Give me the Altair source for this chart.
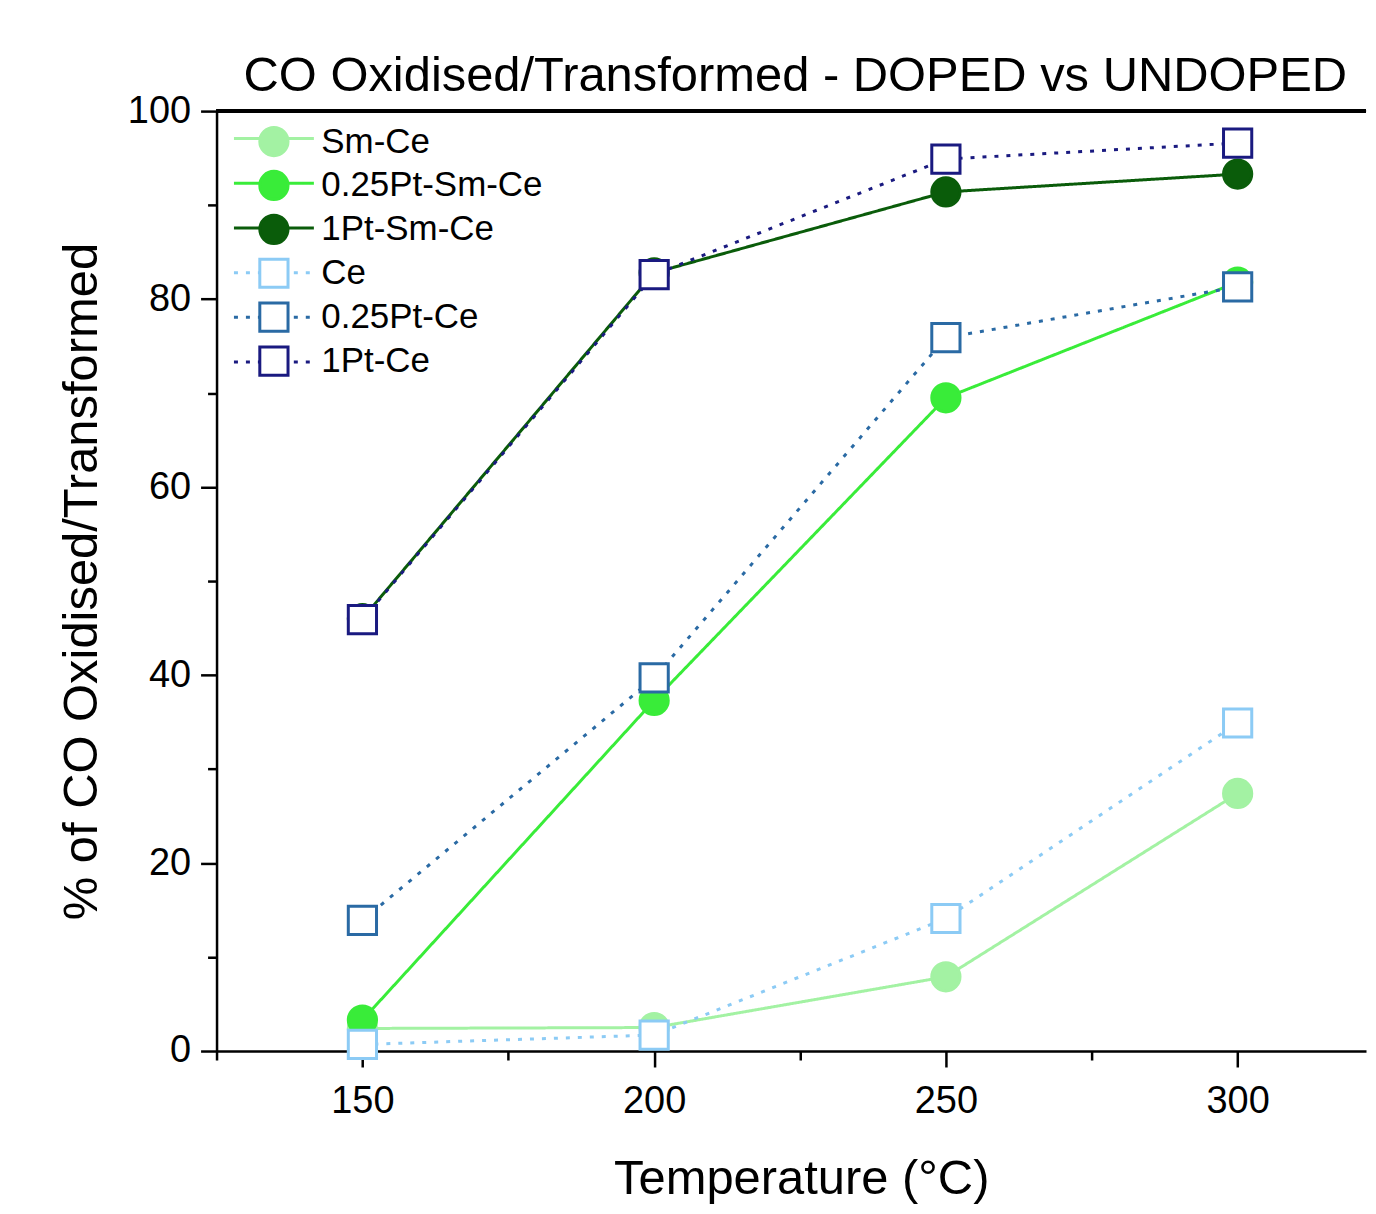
import altair as alt
import pandas as pd

# ---- data ----
temps = [150, 200, 250, 300]
series_names = ["Sm-Ce", "0.25Pt-Sm-Ce", "1Pt-Sm-Ce", "Ce", "0.25Pt-Ce", "1Pt-Ce"]
sm_ce = [2.4, 2.5, 7.9, 27.4]
pt025_sm_ce = [3.3, 37.3, 69.5, 81.8]
pt1_sm_ce = [46.0, 82.8, 91.4, 93.3]
ce = [0.7, 1.7, 14.1, 34.9]
pt025_ce = [13.9, 39.7, 75.9, 81.3]
pt1_ce = [45.9, 82.6, 94.9, 96.6]

# ---- styles ----
colors = ["#a3f2a3", "#39ec39", "#0a5c0a", "#8ccbf5", "#2a6aa4", "#1a1a80"]
fills = ["#a3f2a3", "#39ec39", "#0a5c0a", "white", "white", "white"]
shapes = ["circle", "circle", "circle", "square", "square", "square"]
dashes = [[1, 0], [1, 0], [1, 0], [4, 8], [4, 8], [4, 8]]

values = [sm_ce, pt025_sm_ce, pt1_sm_ce, ce, pt025_ce, pt1_ce]
rows = []
for idx, (name, vals) in enumerate(zip(series_names, values)):
    for t, v in zip(temps, vals):
        rows.append({"series": name, "idx": idx, "temp": t, "pct": v})
df = pd.DataFrame(rows)
idx_domain = list(range(len(series_names)))

FONT = "Liberation Sans"

x_enc = alt.X(
    "temp:Q",
    scale=alt.Scale(domain=[125, 322], nice=False, zero=False),
    axis=alt.Axis(
        title="Temperature (°C)",
        values=[125, 150, 175, 200, 225, 250, 275, 300],
        labelExpr="datum.value % 50 == 0 ? datum.label : ''",
        tickSize={"condition": {"test": "datum.value % 50 == 0", "value": 16}, "value": 9},
        grid=False,
        labelPadding=16,
        titlePadding=34,
        titleX=586,
    ),
)
y_enc = alt.Y(
    "pct:Q",
    scale=alt.Scale(domain=[0, 100], nice=False),
    axis=alt.Axis(
        title="% of CO Oxidised/Transformed",
        values=list(range(0, 101, 10)),
        labelExpr="datum.value % 20 == 0 ? datum.label : ''",
        tickSize={"condition": {"test": "datum.value % 20 == 0", "value": 16}, "value": 9},
        grid=False,
        labelPadding=10,
        titlePadding=21,
    ),
)

LINE_STUB = "M-2.67,0H2.67"

line_legend = alt.Legend(
    orient="none", legendX=40, legendY=10, title=None,
    symbolType=LINE_STUB, symbolSize=900, symbolStrokeWidth=3,
    labelFontSize=35, labelExpr="''", rowPadding=8.8, padding=0,
)
point_legend = alt.Legend(
    orient="none", legendX=40, legendY=13, title=None,
    symbolSize=800, symbolStrokeWidth=3, symbolOpacity=1,
    labelFontSize=35, labelFont=FONT, labelColor="black", labelOffset=30,
    labelLimit=500, rowPadding=3, padding=0,
)

lines = alt.Chart(df).mark_line(strokeWidth=3).encode(
    x=x_enc,
    y=y_enc,
    color=alt.Color("idx:N", scale=alt.Scale(domain=idx_domain, range=colors), legend=line_legend),
    strokeDash=alt.StrokeDash("idx:N", scale=alt.Scale(domain=idx_domain, range=dashes), legend=line_legend),
)

points = alt.Chart(df).mark_point(filled=True, size=800, strokeWidth=3, opacity=1).encode(
    x="temp:Q",
    y="pct:Q",
    shape=alt.Shape("series:N", scale=alt.Scale(domain=series_names, range=shapes), legend=point_legend),
    fill=alt.Fill("series:N", scale=alt.Scale(domain=series_names, range=fills), legend=point_legend),
    stroke=alt.Stroke("series:N", scale=alt.Scale(domain=series_names, range=colors), legend=point_legend),
)

top_frame = alt.Chart(df).mark_rule(color="black", strokeWidth=2.5).encode(y=alt.datum(100))

chart = (
    alt.layer(lines, points, top_frame)
    .properties(
        width=1152,
        height=942,
        title=alt.Title(
            "CO Oxidised/Transformed - DOPED vs UNDOPED",
            fontSize=49, font=FONT, fontWeight="normal", color="black",
            anchor="middle", dx=4, offset=-9,
        ),
        padding={"left": 49, "top": 43, "right": 0, "bottom": 5},
    )
    .configure_view(stroke=None)
    .configure_axis(
        labelFont=FONT, titleFont=FONT, labelFontSize=38, titleFontSize=49,
        titleFontWeight="normal", labelColor="black", titleColor="black",
        domainColor="black", tickColor="black", domainWidth=2.5, tickWidth=2.5,
    )
)

chart.save("out.html", embed_options={"renderer": "svg", "actions": False})
